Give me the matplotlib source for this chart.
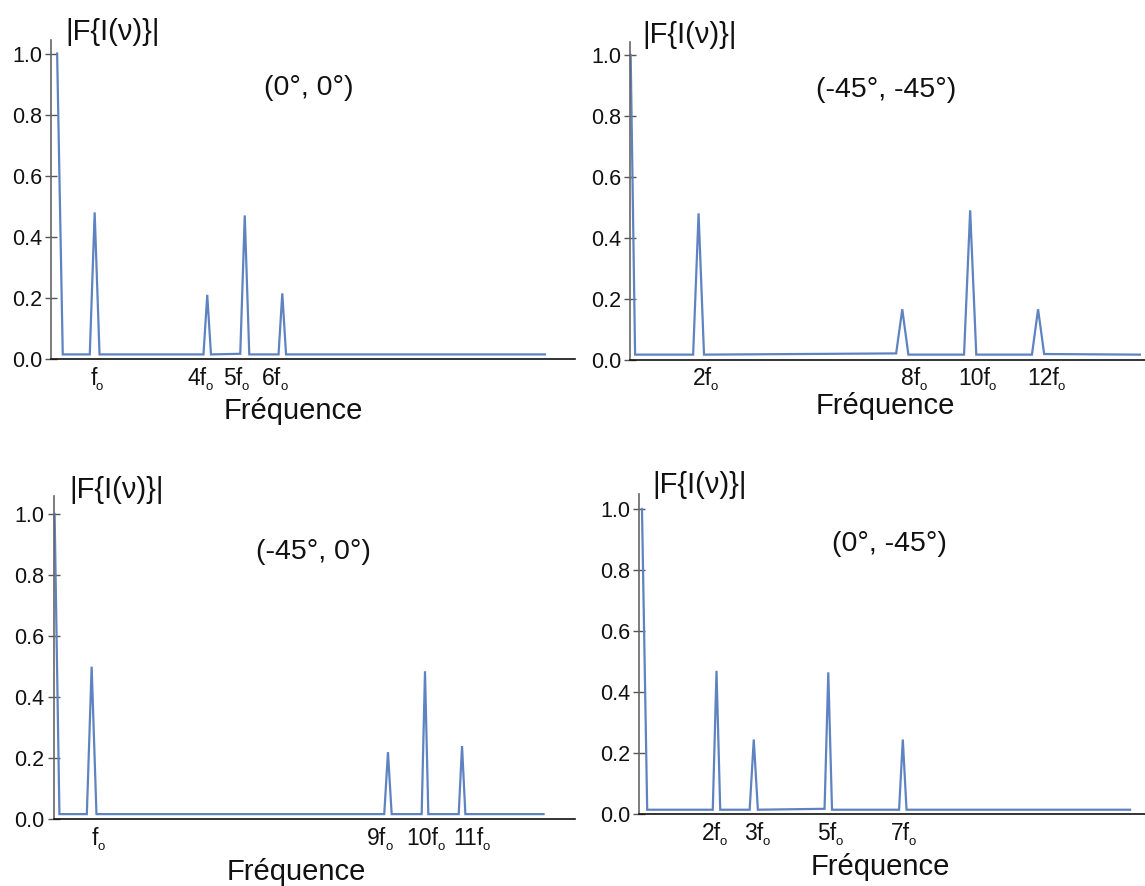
import matplotlib
matplotlib.use("Agg")
import matplotlib.pyplot as plt
from matplotlib.transforms import ScaledTranslation

plt.rcParams['font.family'] = ['Liberation Sans', 'DejaVu Sans']

# ---------------- data (frequency in units of f0, normalised amplitude) ----
titles = ["(0°, 0°)", "(-45°, -45°)", "(-45°, 0°)", "(0°, -45°)"]

freq_00 = [0, 0.15, 0.87, 1.0, 1.13, 3.9, 4.0, 4.1, 4.88, 5.0, 5.12, 5.9, 6.0, 6.1, 13.0]
amp_00 = [1.0, 0.015, 0.015, 0.48, 0.015, 0.015, 0.21, 0.015, 0.017, 0.47, 0.015, 0.015, 0.215, 0.015, 0.015]
harm_00 = [1, 4, 5, 6]
lab_00 = ["f", "4f", "5f", "6f"]

freq_mm = [0, 0.13, 1.84, 2.0, 2.16, 7.82, 8.0, 8.18, 9.82, 10.0, 10.18, 11.82, 12.0, 12.18, 15.0]
amp_mm = [1.0, 0.016, 0.016, 0.48, 0.016, 0.02, 0.165, 0.016, 0.016, 0.49, 0.016, 0.016, 0.165, 0.018, 0.016]
harm_mm = [2, 8, 10, 12]
lab_mm = ["2f", "8f", "10f", "12f"]

freq_m0 = [0, 0.13, 0.87, 1.0, 1.13, 8.9, 9.0, 9.1, 9.91, 10.0, 10.09, 10.91, 11.0, 11.09, 13.2]
amp_m0 = [1.0, 0.017, 0.017, 0.50, 0.017, 0.017, 0.22, 0.017, 0.017, 0.485, 0.017, 0.017, 0.24, 0.017, 0.017]
harm_m0 = [1, 9, 10, 11]
lab_m0 = ["f", "9f", "10f", "11f"]

freq_0m = [0, 0.14, 1.9, 2.0, 2.1, 2.89, 3.0, 3.11, 4.9, 5.0, 5.1, 6.9, 7.0, 7.1, 13.1]
amp_0m = [1.0, 0.015, 0.015, 0.47, 0.015, 0.015, 0.245, 0.015, 0.018, 0.465, 0.015, 0.015, 0.245, 0.015, 0.015]
harm_0m = [2, 3, 5, 7]
lab_0m = ["2f", "3f", "5f", "7f"]

ytick_vals = [0.0, 0.2, 0.4, 0.6, 0.8, 1.0]

# ---------------- layout (pixels) -----------------------------------------
W, H = 1145, 886
fig = plt.figure(figsize=(W / 100, H / 100), dpi=100)

LINE = '#5f83c0'
TXT = '#111111'

panels = [
    dict(f=freq_00, a=amp_00, h=harm_00, l=lab_00, xa=51.5, xr=575, y0=359, y1=53.5, yt=40,
         xlim=(-0.15, 13.8), loff=[2, -0.7, -2, -1],
         ylab=(65, 32), title=(309, 88), xlab=(293, 411)),
    dict(f=freq_mm, a=amp_mm, h=harm_mm, l=lab_mm, xa=630, xr=1145, y0=359.5, y1=55, yt=42,
         xlim=(-0.02, 15.15), loff=[13.3, 18, 20, 21],
         ylab=(642, 35), title=(886, 90), xlab=(885, 406)),
    dict(f=freq_m0, a=amp_m0, h=harm_m0, l=lab_m0, xa=53.5, xr=575, y0=819.3, y1=514, yt=496,
         xlim=(-0.03, 14.05), loff=[6.7, -1.7, 13.4, 21.6],
         ylab=(69, 490), title=(313, 552), xlab=(296, 872)),
    dict(f=freq_0m, a=amp_0m, h=harm_0m, l=lab_0m, xa=639, xr=1145, y0=814.3, y1=509, yt=494,
         xlim=(-0.08, 13.5), loff=[4, 10, 8.3, 7.3],
         ylab=(652, 485), title=(889, 544), xlab=(880, 867)),
]

for p, title in zip(panels, titles):
    left = p['xa'] / W
    width = (p['xr'] - p['xa']) / W
    bottom = (H - p['y0']) / H
    height = (p['y0'] - p['yt']) / H
    ax = fig.add_axes([left, bottom, width, height])
    ax.plot(p['f'], p['a'], color=LINE, lw=1.6, solid_joinstyle='miter', clip_on=False)
    ax.set_xlim(*p['xlim'])
    ax.set_ylim(0, (p['y0'] - p['yt']) / (p['y0'] - p['y1']))
    for s in ['top', 'right']:
        ax.spines[s].set_visible(False)
    ax.spines['bottom'].set_color('#111111')
    ax.spines['bottom'].set_linewidth(1.2)
    ax.spines['left'].set_color('#666666')
    ax.spines['left'].set_linewidth(1.2)
    ax.set_yticks(ytick_vals)
    ax.set_yticklabels([f"{v:.1f}" for v in ytick_vals])
    ax.tick_params(axis='y', direction='inout', length=9, width=1.0, color='#555555',
                   labelsize=15.5, labelcolor=TXT, pad=2)
    ax.set_xticks([])
    # harmonic labels: main part right-aligned, small subscript "o" to the right
    for k, lab, dx in zip(p['h'], p['l'], p['loff']):
        tr_main = ax.get_xaxis_transform() + ScaledTranslation(dx / 100, -25.7 / 100, fig.dpi_scale_trans)
        ax.text(k, 0, lab, transform=tr_main, ha='right', va='baseline', fontsize=16.5, color=TXT)
        tr_sub = ax.get_xaxis_transform() + ScaledTranslation((dx - 1.2) / 100, -30.5 / 100, fig.dpi_scale_trans)
        ax.text(k, 0, "o", transform=tr_sub, ha='left', va='baseline', fontsize=9.5, color=TXT)
    fig.text(p['ylab'][0] / W, 1 - p['ylab'][1] / H, "|F{I(ν)}|", ha='left', va='center',
             fontsize=21, color=TXT)
    fig.text(p['title'][0] / W, 1 - p['title'][1] / H, title, ha='center', va='center',
             fontsize=20.5, color=TXT)
    fig.text(p['xlab'][0] / W, 1 - p['xlab'][1] / H, "Fréquence", ha='center', va='center',
             fontsize=21, color=TXT)

fig.savefig("out.png", dpi=100)
